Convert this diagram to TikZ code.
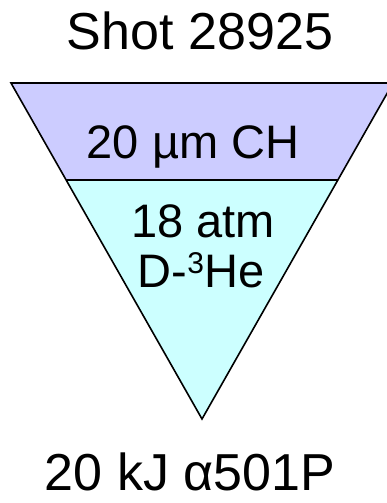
\documentclass[tikz,border=0pt]{standalone}
\usepackage{fontspec}
\setmainfont{Liberation Sans}
\definecolor{shelllav}{HTML}{CCCCFF}
\definecolor{fuelcyan}{HTML}{CCFFFF}
\newcommand{\isosup}[1]{\raisebox{14pt}{\fontsize{30}{34}\selectfont #1}}
\begin{document}
\begin{tikzpicture}[x=1pt, y=-1pt,
    bigtext/.style={anchor=base, inner sep=0pt, font=\fontsize{52}{60}\selectfont},
    midtext/.style={anchor=base, inner sep=0pt, font=\fontsize{47}{54}\selectfont}]

\useasboundingbox (0,0) rectangle (386,503);

% shell band and fuel region
\fill[shelllav] (11,83) -- (393,83) -- (337.9,180) -- (66.1,180) -- cycle;
\fill[fuelcyan] (66.1,180) -- (337.9,180) -- (202,419) -- cycle;

% triangle lines
\draw[line width=1.6pt, line join=miter] (11,83) -- (393,83) -- (202,419) -- cycle;
\draw[line width=1.6pt] (66.1,180) -- (337.9,180);

% labels
\node[bigtext] (shot) at (200,50) {Shot 28925};
\node[midtext] (shell) at (193,158) {20 µm CH};
\node[midtext] (press) at (203,237) {18 atm};
\node[midtext] (fuel) at (201,287) {D-\isosup{3}He};
\node[bigtext] (laser) at (190,490) {20 kJ α501P};

\end{tikzpicture}
\end{document}
